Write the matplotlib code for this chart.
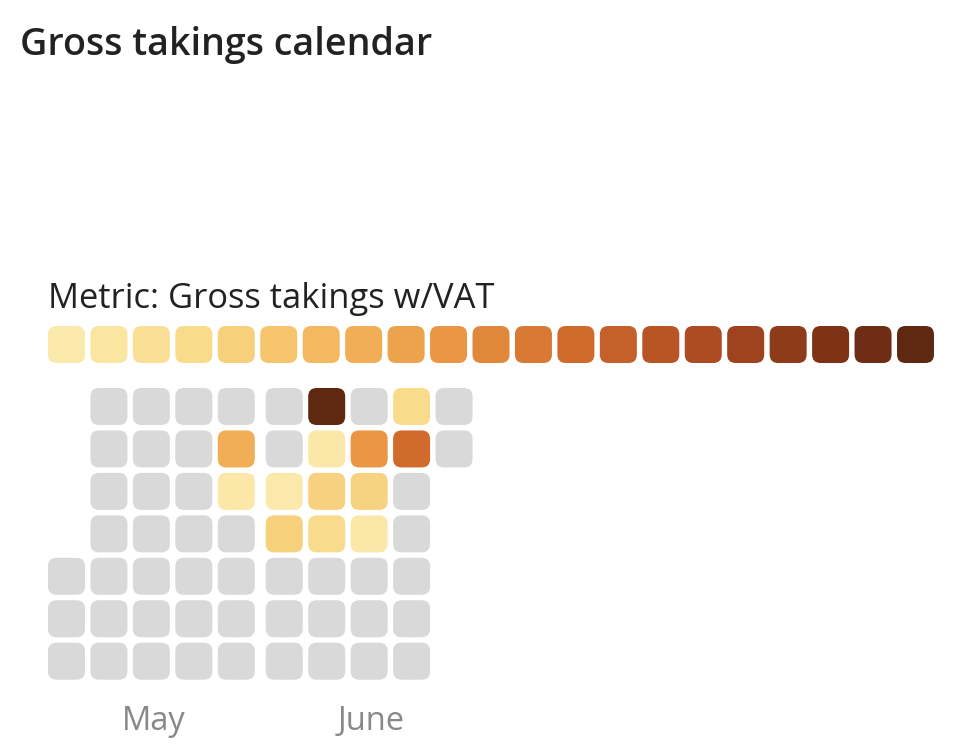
#!/usr/bin/env python3

# calendar heatmap of gross takings, one rounded square per day

import datetime as dt
import matplotlib.pyplot as plt
from matplotlib.patches import FancyBboxPatch
from matplotlib.colors import LinearSegmentedColormap

# data
months = ['May', 'June']
year = 2026
dates = ['2026-05-26', '2026-05-27', '2026-06-03', '2026-06-04', '2026-06-08',
         '2026-06-09', '2026-06-10', '2026-06-11', '2026-06-16', '2026-06-17',
         '2026-06-18', '2026-06-22', '2026-06-23']
takings = [4080, 1150, 1000, 2760, 9800,
           1080, 2700, 2300, 4960, 2650,
           1200, 2320, 6280]
legend_steps = 21

cmap = LinearSegmentedColormap.from_list('takings', [
    (0.00, '#fbe9ab'), (0.15, '#f8db8b'), (0.30, '#f4b95f'), (0.45, '#ea9642'),
    (0.60, '#d06b2d'), (0.75, '#ae4b21'), (0.90, '#7f3317'), (1.00, '#5f2811')])
empty = '#d9d9d9'

# layout (pixels)
left = 48
pitch = 42.45
cell = 37
radius = 8.5
month_gap = 5.5
grid_top = 388
legend_top = 326

plt.rcParams['font.family'] = ['Open Sans', 'DejaVu Sans']

fig = plt.figure(figsize=(9.62, 7.56), dpi=100)
ax = fig.add_axes([0, 0, 1, 1])
ax.set_xlim(0, 962)
ax.set_ylim(756, 0)
ax.axis('off')
renderer = fig.canvas.get_renderer()


def square(x, y, color):
    ax.add_patch(FancyBboxPatch((x + radius, y + radius), cell - 2*radius, cell - 2*radius,
                                boxstyle='round,pad=%g' % radius, linewidth=0,
                                facecolor=color))


def fit(t, width):
    # scale the font so the text spans the wanted pixel width
    w = t.get_window_extent(renderer).width
    t.set_fontsize(t.get_fontsize() * width / w)


values = {dt.date.fromisoformat(d): v for d, v in zip(dates, takings)}
vmin, vmax = min(takings), max(takings)

col = 0
x0 = left
for m, name in enumerate(months):
    month = 5 + m
    first = dt.date(year, month, 1)
    nxt = dt.date(year, month + 1, 1)
    ndays = (nxt - first).days
    start_col = col
    for d in range(ndays):
        day = first + dt.timedelta(days=d)
        wd = day.weekday()
        if d > 0 and wd == 0:
            col += 1
        x = x0 + (col - start_col) * pitch
        y = grid_top + wd * pitch
        if day in values:
            c = cmap((values[day] - vmin) / (vmax - vmin))
        else:
            c = empty
        square(x, y, c)
    ncols = col - start_col + 1
    xc = x0 + (ncols * pitch - (pitch - cell)) / 2
    t = ax.text(xc + 2, 729.5, name, ha='center', va='baseline', fontsize=18, color='#888888')
    if name == 'May':
        fit(t, 64)
        month_size = t.get_fontsize()
    else:
        t.set_fontsize(month_size)
    x0 = x0 + ncols * pitch + month_gap
    col += 1

for i in range(legend_steps):
    square(left + i * pitch, legend_top, cmap(i / (legend_steps - 1)))

t = ax.text(48, 308, 'Metric: Gross takings w/VAT', ha='left', va='baseline',
            fontsize=18, color='#222222')
fit(t, 446)
t = ax.text(20, 55, 'Gross takings calendar', ha='left', va='baseline',
            fontsize=20, fontweight='semibold', color='#222222')
fit(t, 410)

plt.savefig('out.png', dpi=100)
plt.close()
